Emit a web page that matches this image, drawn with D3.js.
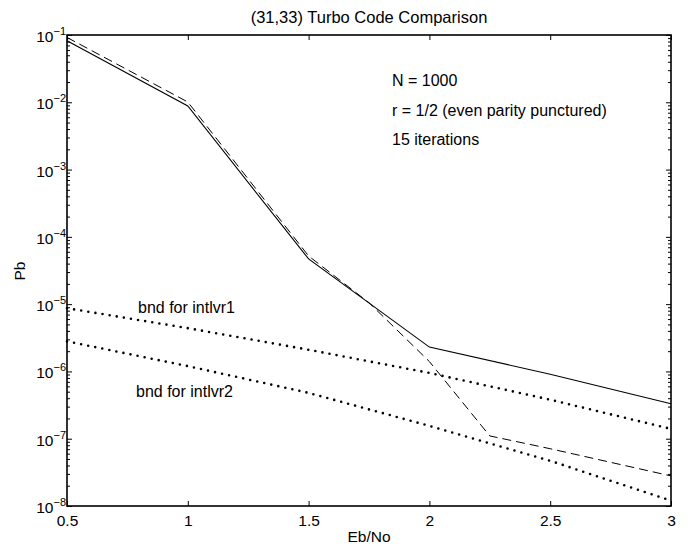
<!DOCTYPE html>
<html>
<head>
<meta charset="utf-8">
<script src="https://cdn.jsdelivr.net/npm/d3@7"></script>
<style>
  body { margin: 0; background: #fff; }
  text { font-family: "Liberation Sans", Arial, Helvetica, sans-serif; fill: #000; }
</style>
</head>
<body>
<div id="chart"></div>
<script>
// Eb/No points
var ebno = [0.5, 1, 1.5, 2, 2.5, 3];
var ebnoDashed = [0.5, 1, 1.5, 1.75, 2, 2.25, 2.5, 3];

// simulated Pb (solid = intlvr1, dashed = intlvr2)
var pbSolid = [0.082, 0.0088, 4.7e-5, 2.3e-6, 9.1e-7, 3.3e-7];
var pbDashed = [0.092, 0.0101, 5.2e-5, 1.05e-5, 1.4e-6, 1.1e-7, 7.1e-8, 2.8e-8];

// union bounds
var bnd1 = [8.7e-6, 4.4e-6, 2.1e-6, 9.5e-7, 3.8e-7, 1.4e-7];
var bnd2 = [2.8e-6, 1.2e-6, 4.8e-7, 1.55e-7, 4.7e-8, 1.2e-8];

var xTicks = [0.5, 1, 1.5, 2, 2.5, 3];
var yExp = [-1, -2, -3, -4, -5, -6, -7, -8];

var notes = ["N = 1000", "r = 1/2 (even parity punctured)", "15 iterations"];

window.onload = function() {

  var width = 689, height = 546;
  var left = 67, right = 671, top = 35, bottom = 506;

  var svg = d3.select("#chart").append("svg")
    .attr("width", width)
    .attr("height", height);

  var x = d3.scaleLinear().domain([0.5, 3]).range([left, right]);
  var y = d3.scaleLog().domain([1e-8, 1e-1]).range([bottom, top]);

  // minor log ticks
  var minor = [];
  yExp.slice(1).forEach(function(e) {
    for (var k = 2; k <= 9; k++) minor.push(k * Math.pow(10, e));
  });
  var major = yExp.map(function(e) { return Math.pow(10, e); });

  // axes
  svg.append("g")
    .attr("transform", "translate(0," + bottom + ")")
    .call(d3.axisBottom(x).tickValues(xTicks).tickSize(-5).tickPadding(9)
      .tickFormat(function(d) { return d3.format("")(d); }));
  svg.append("g")
    .attr("transform", "translate(0," + top + ")")
    .call(d3.axisTop(x).tickValues(xTicks).tickSize(-5).tickFormat(""));

  var yl = svg.append("g")
    .attr("transform", "translate(" + left + ",0)")
    .call(d3.axisLeft(y).tickValues(major).tickSize(-5).tickPadding(2).tickFormat(""));
  svg.append("g")
    .attr("transform", "translate(" + left + ",0)")
    .call(d3.axisLeft(y).tickValues(minor).tickSize(-3).tickFormat(""));
  svg.append("g")
    .attr("transform", "translate(" + right + ",0)")
    .call(d3.axisRight(y).tickValues(major).tickSize(-5).tickFormat(""));
  svg.append("g")
    .attr("transform", "translate(" + right + ",0)")
    .call(d3.axisRight(y).tickValues(minor).tickSize(-3).tickFormat(""));

  // 10^n labels
  yl.selectAll(".tick").each(function(d) {
    var t = d3.select(this).select("text")
      .attr("x", -1)
      .attr("dy", "0.42em")
      .attr("font-size", 15.5)
      .attr("text-anchor", "end");
    t.append("tspan").text("10");
    t.append("tspan").attr("dy", -7).attr("font-size", 11)
      .text("\u2212" + Math.round(-Math.log10(d)));
  });

  svg.selectAll(".domain").remove();
  svg.selectAll(".tick line").attr("stroke", "#000").attr("stroke-width", 1);
  svg.selectAll(".tick text").attr("font-size", 15.5).attr("fill", "#000");

  // box
  svg.append("rect")
    .attr("x", left).attr("y", top)
    .attr("width", right - left).attr("height", bottom - top)
    .attr("fill", "none").attr("stroke", "#000").attr("stroke-width", 1.6);

  var line = d3.line()
    .x(function(d) { return x(d[0]); })
    .y(function(d) { return y(d[1]); });

  svg.append("path")
    .datum(d3.zip(ebno, pbSolid))
    .attr("d", line)
    .attr("fill", "none").attr("stroke", "#000").attr("stroke-width", 1.1);

  svg.append("path")
    .datum(d3.zip(ebnoDashed, pbDashed))
    .attr("d", line)
    .attr("fill", "none").attr("stroke", "#000").attr("stroke-width", 1)
    .attr("stroke-dasharray", "9,5");

  [bnd1, bnd2].forEach(function(b) {
    svg.append("path")
      .datum(d3.zip(ebno, b))
      .attr("d", line)
      .attr("fill", "none").attr("stroke", "#000").attr("stroke-width", 2.6)
      .attr("stroke-linecap", "round")
      .attr("stroke-dasharray", "0,7.2");
  });

  // title and axis labels
  svg.append("text")
    .attr("x", (left + right) / 2).attr("y", 23)
    .attr("text-anchor", "middle").attr("font-size", 16.5)
    .text("(31,33) Turbo Code Comparison");
  svg.append("text")
    .attr("x", (left + right) / 2).attr("y", 542)
    .attr("text-anchor", "middle").attr("font-size", 15.5)
    .text("Eb/No");
  svg.append("text")
    .attr("transform", "translate(25,271) rotate(-90)")
    .attr("text-anchor", "middle").attr("font-size", 15.5)
    .text("Pb");

  // notes
  svg.selectAll(".note")
    .data(notes)
    .enter()
    .append("text")
    .attr("class", "note")
    .attr("x", 392)
    .attr("y", function(d, i) { return 86 + i * 29.5; })
    .attr("font-size", 16)
    .text(function(d) { return d; });

  svg.append("text").attr("x", 138).attr("y", 313).attr("font-size", 16).text("bnd for intlvr1");
  svg.append("text").attr("x", 136).attr("y", 397).attr("font-size", 16).text("bnd for intlvr2");
}
</script>
</body>
</html>
